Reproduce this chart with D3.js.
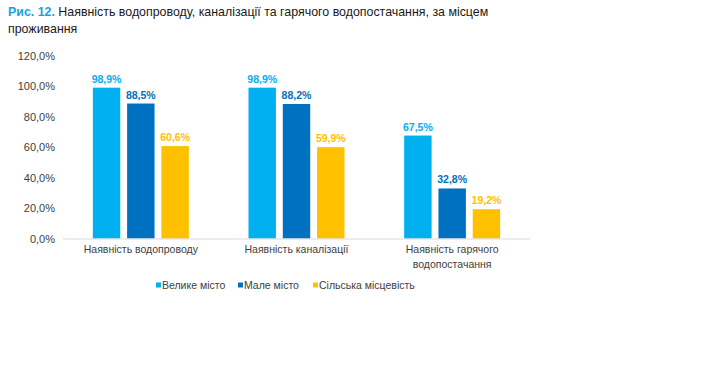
<!DOCTYPE html>
<html><head><meta charset="utf-8">
<script src="https://cdn.jsdelivr.net/npm/d3@7"></script>
<style>body{margin:0;background:#fff;} svg{display:block;font-family:"Liberation Sans",Arial,sans-serif;}</style>
</head><body>
<svg id="c" width="720" height="368"></svg>
<script>
const categories = [["Наявність водопроводу"], ["Наявність каналізації"], ["Наявність гарячого", "водопостачання"]];
const seriesNames = ["Велике місто", "Мале місто", "Сільська місцевість"];
const valuesBig = [98.9, 98.9, 67.5];
const valuesSmall = [88.5, 88.2, 32.8];
const valuesRural = [60.6, 59.9, 19.2];
const yTicks = [0, 20, 40, 60, 80, 100, 120];
const colors = ["#00b0f0", "#0070c0", "#ffc000"];

const series = [valuesBig, valuesSmall, valuesRural];
const svg = d3.select("#c");
const fmt = v => v.toFixed(1).replace(".", ",") + "%";

// Title
const t = svg.append("text").attr("x", 8).attr("y", 16).attr("font-size", 12.4);
t.append("tspan").attr("fill", "#1aa0dc").attr("font-weight", "bold").text("Рис. 12. ");
t.append("tspan").attr("fill", "#1a1a1a").text("Наявність водопроводу, каналізації та гарячого водопостачання, за місцем");
svg.append("text").attr("x", 8).attr("y", 32.5).attr("font-size", 12.4).attr("fill", "#1a1a1a").text("проживання");

const y = d3.scaleLinear().domain([0, 120]).range([238.5, 55.5]);
const x0 = d3.scaleBand().domain(d3.range(categories.length)).range([63, 530]);
const x1 = d3.scaleBand().domain(d3.range(series.length)).range([0, x0.bandwidth()]).paddingInner(0.2).paddingOuter(0.87);

// y axis labels
const yAxis = d3.axisLeft(y).tickValues(yTicks).tickSize(0).tickPadding(8).tickFormat(fmt);
const ga = svg.append("g").attr("transform", "translate(63,0)").call(yAxis);
ga.select(".domain").remove();
ga.selectAll("text").attr("font-size", 11).attr("fill", "#404040").attr("font-family", "Liberation Sans, Arial, sans-serif");

// bars
series.forEach((vals, si) => {
  const g = svg.append("g");
  g.selectAll("rect").data(vals).join("rect")
    .attr("x", (d, i) => x0(i) + x1(si))
    .attr("width", x1.bandwidth())
    .attr("y", d => y(d))
    .attr("height", d => y(0) - y(d))
    .attr("fill", colors[si]);
  g.selectAll("text").data(vals).join("text")
    .attr("x", (d, i) => x0(i) + x1(si) + x1.bandwidth() / 2)
    .attr("y", d => y(d) - 5)
    .attr("text-anchor", "middle")
    .attr("font-size", 10.5).attr("font-weight", "bold")
    .attr("fill", colors[si])
    .text(fmt);
});

// baseline
svg.append("line").attr("x1", 63).attr("x2", 530).attr("y1", y(0) + 0.5).attr("y2", y(0) + 0.5)
  .attr("stroke", "#d9d9d9").attr("stroke-width", 1);

// category labels
categories.forEach((lines, i) => {
  const cx = x0(i) + x0.bandwidth() / 2;
  const tx = svg.append("text").attr("x", cx).attr("y", 253)
    .attr("text-anchor", "middle").attr("font-size", 10.5).attr("fill", "#404040");
  lines.forEach((l, j) => tx.append("tspan").attr("x", cx).attr("dy", j ? 15 : 0).text(l));
});

// legend
const legX = [156, 238, 313];
seriesNames.forEach((n, i) => {
  svg.append("rect").attr("x", legX[i]).attr("y", 282.5).attr("width", 5).attr("height", 5).attr("fill", colors[i]);
  svg.append("text").attr("x", legX[i] + 6).attr("y", 289).attr("font-size", 10.5).attr("fill", "#404040").text(n);
});
</script>
</body></html>
